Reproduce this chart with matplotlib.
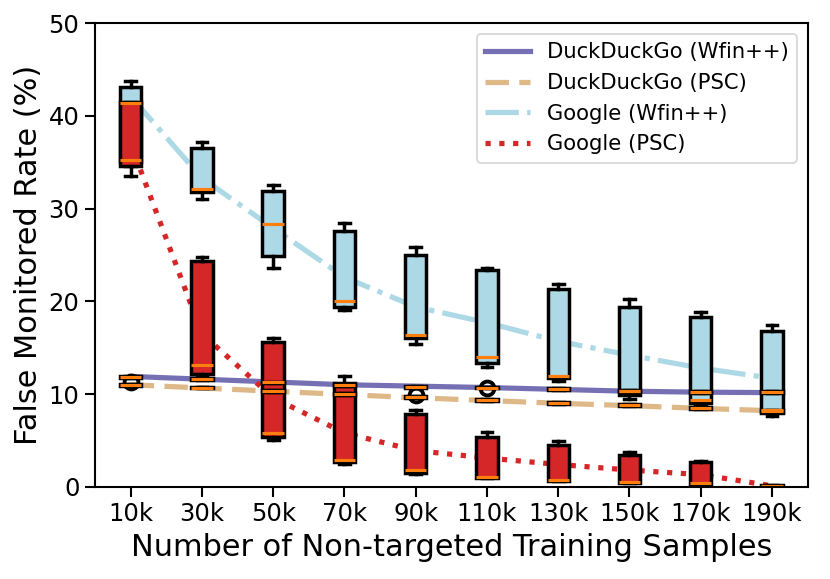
import matplotlib
matplotlib.use("Agg")
import matplotlib.pyplot as plt

labels = ["10k", "30k", "50k", "70k", "90k", "110k", "130k", "150k", "170k", "190k"]

# mean lines
ddg_wfin_line = [11.9, 11.6, 11.3, 11.0, 10.85, 10.7, 10.5, 10.3, 10.2, 10.15]
ddg_psc_line = [11.0, 10.65, 10.3, 9.95, 9.6, 9.3, 9.0, 8.75, 8.45, 8.2]
goo_wfin_line = [42.1, 33.3, 27.9, 22.6, 19.4, 17.7, 15.7, 14.2, 12.8, 11.7]
goo_psc_line = [37.0, 16.5, 9.6, 5.8, 3.9, 3.1, 2.4, 1.8, 1.3, 0.1]

# Google (Wfin++) boxes
gw_hi = [43.8, 37.2, 32.6, 28.5, 25.9, 23.6, 21.9, 20.3, 18.8, 17.5]
gw_q3 = [43.15, 36.5, 31.9, 27.6, 25.05, 23.4, 21.3, 19.4, 18.3, 16.8]
gw_med = [41.4, 32.1, 28.3, 20.0, 16.4, 14.0, 11.9, 10.3, 9.35, 8.25]
gw_q1 = [35.0, 31.75, 24.9, 19.4, 16.0, 13.4, 11.7, 9.9, 9.0, 7.9]
gw_lo = [34.6, 31.0, 23.6, 19.1, 15.4, 12.9, 11.4, 9.5, 8.8, 7.6]

# Google (PSC) boxes
gp_hi = [41.5, 24.8, 16.0, 11.9, 8.3, 5.9, 4.95, 3.7, 2.8, 0.2]
gp_q3 = [41.5, 24.3, 15.6, 11.2, 7.8, 5.4, 4.45, 3.4, 2.7, 0.2]
gp_med = [35.2, 13.1, 5.8, 2.9, 1.75, 1.1, 0.75, 0.5, 0.4, 0.1]
gp_q1 = [34.55, 12.2, 5.4, 2.7, 1.45, 0.95, 0.65, 0.4, 0.3, 0.05]
gp_lo = [33.5, 11.9, 5.05, 2.5, 1.4, 0.9, 0.6, 0.35, 0.25, 0.0]

# DuckDuckGo boxes (almost flat)
dw_med = [11.85, 11.6, 11.25, 10.95, 10.8, 10.7, 10.5, 10.3, 10.2, 10.25]
dw_fliers = [[11.3], [], [], [], [], [10.65], [], [], [], []]
dp_med = [10.95, 10.7, 10.3, 10.0, 9.65, 9.35, 9.07, 8.85, 8.5, 8.17]
dp_fliers = [[], [], [], [], [9.9], [], [], [], [], []]


def make_stats(lo, q1, med, q3, hi, fliers=None):
    stats = []
    for i in range(len(med)):
        stats.append({"whislo": lo[i], "q1": q1[i], "med": med[i], "q3": q3[i],
                      "whishi": hi[i], "fliers": fliers[i] if fliers else []})
    return stats


def flat_stats(med, fliers):
    lo = [m - 0.1 for m in med]
    hi = [m + 0.1 for m in med]
    return make_stats(lo, lo, med, hi, hi, fliers)


fig = plt.figure(figsize=(6.64, 4.632), dpi=125)
ax = fig.add_axes([0.1145, 0.1594, 0.8585, 0.8004])

pos = list(range(1, len(labels) + 1))

ax.plot(pos, ddg_wfin_line, color="#7570b3", lw=3, ls="-", label="DuckDuckGo (Wfin++)")
ax.plot(pos, ddg_psc_line, color="burlywood", lw=3, ls=(0, (4.5, 2)), label="DuckDuckGo (PSC)")
ax.plot(pos, goo_wfin_line, color="lightblue", lw=3, ls="-.", label="Google (Wfin++)")
ax.plot(pos, goo_psc_line, color="#d62728", lw=3, ls=":", label="Google (PSC)")

common = dict(positions=pos, widths=0.3, patch_artist=True,
              whiskerprops=dict(color="black", lw=2),
              capprops=dict(color="black", lw=2),
              medianprops=dict(color="#ff7f0e", lw=1.8),
              flierprops=dict(marker="o", markerfacecolor="none",
                              markeredgecolor="black", markersize=8, markeredgewidth=2.2))

ax.bxp(make_stats(gw_lo, gw_q1, gw_med, gw_q3, gw_hi),
       boxprops=dict(facecolor="lightblue", edgecolor="black", lw=2), **common)
ax.bxp(make_stats(gp_lo, gp_q1, gp_med, gp_q3, gp_hi),
       boxprops=dict(facecolor="#d62728", edgecolor="black", lw=2), **common)
ax.bxp(flat_stats(dw_med, dw_fliers),
       boxprops=dict(facecolor="white", edgecolor="black", lw=2), **common)
ax.bxp(flat_stats(dp_med, dp_fliers),
       boxprops=dict(facecolor="white", edgecolor="black", lw=2), **common)

ax.set_xlim(0.5, len(labels) + 0.5)
ax.set_ylim(0, 50)
ax.set_xticks(pos)
ax.set_xticklabels(labels)
ax.set_yticks([0, 10, 20, 30, 40, 50])
ax.tick_params(labelsize=14, length=5.5, width=1.2)
for s in ax.spines.values():
    s.set_linewidth(1.2)

ax.set_xlabel("Number of Non-targeted Training Samples", fontsize=17.5, labelpad=4)
ax.set_ylabel("False Monitored Rate (%)", fontsize=17.5, labelpad=3)
ax.legend(loc="upper right", fontsize=12.2, handlelength=2.1)

fig.savefig("out.png", dpi=125)
